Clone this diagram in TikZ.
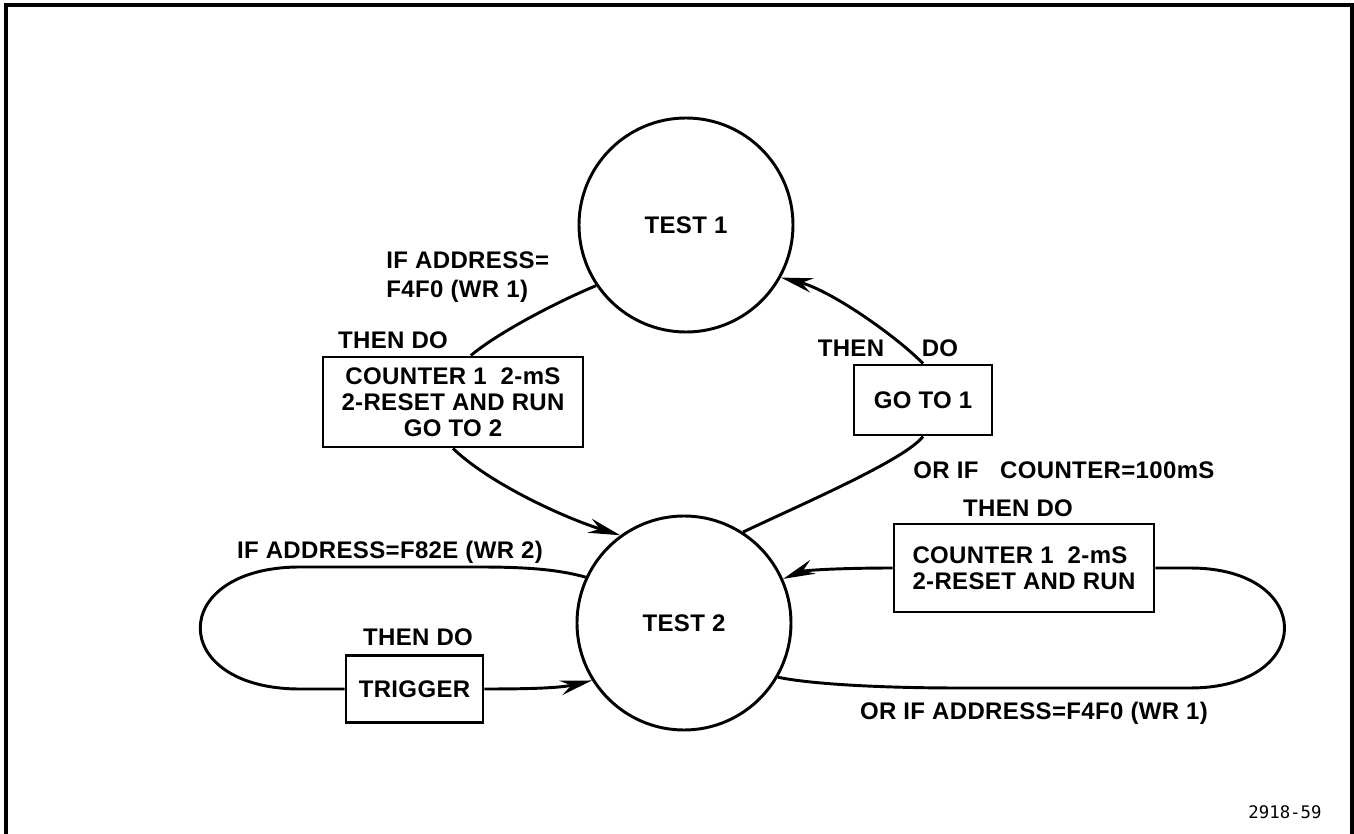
\documentclass[tikz,border=0pt]{standalone}
\usepackage{fontspec}
\setmainfont{Liberation Sans}[LetterSpace=1.5]
\newfontfamily\idfont{DejaVu Sans Mono}
\usetikzlibrary{arrows.meta}

\tikzset{every picture/.style={line width=2.2pt}}
\tikzset{
  state/.style={draw, circle, minimum size=160.5pt, inner sep=0pt,
    font=\fontsize{18}{19.5}\selectfont\bfseries},
  action/.style={draw, rectangle, inner sep=0pt, align=center,
    font=\fontsize{18}{19.5}\selectfont\bfseries},
  lbl/.style={inner sep=0pt, font=\fontsize{18}{21.75}\selectfont\bfseries},
  flow/.style={-{Stealth[length=24pt,width=11pt,inset=8pt]}},
}

\begin{document}
\begin{tikzpicture}[x=0.75pt,y=0.75pt,yscale=-1,xscale=1]
\useasboundingbox (0,0) rectangle (1354,834);

%Frame
\draw [line width=3pt] (6,834) -- (6,5) -- (1352,5) -- (1352,834) ;

%Shape: Circle
\node [state] (test1) at (686,225) {TEST 1};
%Shape: Circle
\node [state] (test2) at (684,623) {TEST 2};

%Shape: Rectangle
\node [action, minimum width=195pt, minimum height=67.5pt] (cnt1) at (453,402) {COUNTER 1~~2-mS\\2-RESET AND RUN\\GO TO 2};
%Shape: Rectangle
\node [action, minimum width=103.5pt, minimum height=52.5pt] (goone) at (923,400) {GO TO 1};
%Shape: Rectangle
\node [action, minimum width=195pt, minimum height=66pt, align=left] (cnt2) at (1024,568) {COUNTER 1~~2-mS\\2-RESET AND RUN};
%Shape: Rectangle
\node [action, minimum width=102.75pt, minimum height=50.25pt] (trig) at (414.5,689) {TRIGGER};

%Curve Lines
\draw (test1.214) .. controls (550,305) and (495,335) .. (cnt1.69) ;
%Curve Lines
\draw [flow] (cnt1.south) .. controls (490,484) and (565,518) .. (test2.126) ;
%Curve Lines
\draw [flow] (goone.north) .. controls (895,335) and (830,290) .. (test1.-29) ;
%Curve Lines
\draw (goone.south) .. controls (905,460) and (800,505) .. (test2.57) ;
%Curve Lines
\draw [flow] (cnt2.west) .. controls (845,568) and (805,570) .. (test2.24) ;
%Curve Lines
\draw (test2.-30) .. controls (810,684) and (880,688) .. (960,688) -- (1190,688) .. controls (1316,688) and (1316,568) .. (1190,568) -- (cnt2.east) ;
%Curve Lines
\draw (test2.155) .. controls (560,570) and (530,567) .. (480,567) -- (300,567) .. controls (167,567) and (167,689) .. (300,689) -- (trig.west) ;
%Curve Lines
\draw [flow] (trig.east) .. controls (530,689) and (560,688) .. (test2.212) ;

% Text Node
\node [lbl, anchor=west, align=left] (ifa) at (385,277) {IF ADDRESS=\\F4F0 (WR 1)};
% Text Node
\node [lbl] (then1) at (393,340) {THEN DO};
% Text Node
\node [lbl] (then2) at (851,348) {THEN};
% Text Node
\node [lbl] (do2) at (940,348) {DO};
% Text Node
\node [lbl, anchor=west] (orcnt) at (912,470) {OR IF\hspace{0.9em}COUNTER=100mS};
% Text Node
\node [lbl] (then3) at (1018,508) {THEN DO};
% Text Node
\node [lbl] (oradr) at (1034,713) {OR IF ADDRESS=F4F0 (WR 1)};
% Text Node
\node [lbl] (ifb) at (390,552) {IF ADDRESS=F82E (WR 2)};
% Text Node
\node [lbl] (then4) at (418,637) {THEN DO};
% Text Node
\node [font=\idfont\fontsize{13}{13}\selectfont] (figno) at (1285,812) {2918-59};

\end{tikzpicture}
\end{document}
